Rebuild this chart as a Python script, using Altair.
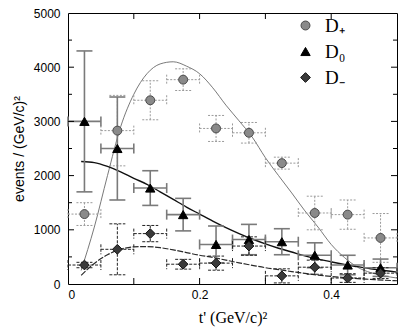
import altair as alt
import pandas as pd

# ---------------- data ----------------
SERIES = ["D₊", "D₀", "D₋"]

X_CENTERS = [0.025, 0.075, 0.125, 0.175, 0.225, 0.275, 0.325, 0.375, 0.425, 0.475]
X_HALF = [0.025, 0.025, 0.025, 0.025, 0.025, 0.025, 0.025, 0.025, 0.025, 0.025]

DPLUS_Y = [1290, 2830, 3390, 3770, 2870, 2790, 2230, 1310, 1280, 850]
DPLUS_ERR = [210, 650, 360, 200, 240, 190, 110, 310, 270, 450]
DZERO_Y = [3000, 2500, 1770, 1280, 730, 820, 780, 530, 350, 300]
DZERO_ERR = [1300, 950, 320, 300, 340, 280, 240, 230, 180, 160]
DMINUS_Y = [350, 640, 930, 365, 385, 700, 150, 310, 110, 200]
DMINUS_ERR = [50, 470, 150, 90, 130, 170, 130, 130, 80, 100]

CURVE_X = [0.02, 0.04, 0.06, 0.08, 0.10, 0.12, 0.14, 0.16, 0.18, 0.20, 0.22, 0.24,
           0.26, 0.28, 0.30, 0.32, 0.34, 0.36, 0.38, 0.40, 0.42, 0.44, 0.46, 0.48, 0.50]
DPLUS_CURVE = [250, 1050, 2000, 2900, 3500, 3880, 4060, 4100, 4020, 3880, 3620, 3300,
               3010, 2710, 2330, 2000, 1680, 1350, 1050, 730, 490, 310, 210, 150, 110]
DZERO_CURVE = [2260, 2240, 2170, 2070, 1950, 1840, 1700, 1560, 1420, 1290, 1160, 1040,
               930, 830, 740, 660, 590, 520, 460, 410, 360, 320, 280, 250, 220]
DMINUS_CURVE = [160, 380, 540, 640, 685, 690, 670, 630, 580, 530, 490, 440,
                390, 345, 300, 265, 230, 195, 165, 140, 120, 100, 85, 70, 60]

X_LABELS = [0, 0.2, 0.4]
X_TICKS = [0.1, 0.2, 0.3, 0.4]
Y_LABELS = [0, 1000, 2000, 3000, 4000, 5000]
Y_MAJOR = [1000, 2000, 3000, 4000]
Y_MINOR = [500, 1500, 2500, 3500, 4500]

# ---------------- tables ----------------
rows = []
for name, ys_, es_ in [(SERIES[0], DPLUS_Y, DPLUS_ERR),
                       (SERIES[1], DZERO_Y, DZERO_ERR),
                       (SERIES[2], DMINUS_Y, DMINUS_ERR)]:
    for x, hx, y, e in zip(X_CENTERS, X_HALF, ys_, es_):
        rows.append(dict(series=name, x=x, y=y, xlo=x - hx, xhi=x + hx,
                         ylo=max(y - e, 0), yhi=y + e))
pts = pd.DataFrame(rows)

curves = {
    SERIES[0]: pd.DataFrame({"x": CURVE_X, "y": DPLUS_CURVE}),
    SERIES[1]: pd.DataFrame({"x": CURVE_X, "y": DZERO_CURVE}),
    SERIES[2]: pd.DataFrame({"x": CURVE_X, "y": DMINUS_CURVE}),
}

W, H = 329, 271
xs = alt.Scale(domain=[0, 0.5], nice=False, zero=False)
ys = alt.Scale(domain=[0, 5000], nice=False)
SANS = "Liberation Sans"
SERIF = "Liberation Serif"

XAX = alt.Axis(values=X_LABELS,
               labelExpr="datum.value == 0 ? '0' : format(datum.value, '.1f')",
               ticks=False, domain=False, grid=False,
               labelFont=SANS, labelFontSize=12, labelColor="black",
               labelPadding=5,
               title="t' (GeV/c)²", titleFont=SERIF, titleFontSize=16,
               titleFontWeight="normal", titleColor="black", titlePadding=9)
YAX = alt.Axis(values=Y_LABELS, format="d",
               ticks=False, domain=False, grid=False,
               labelFont=SANS, labelFontSize=12, labelColor="black",
               labelPadding=8,
               title="events / (GeV/c)²", titleFont=SANS, titleFontSize=14,
               titleFontWeight="normal", titleColor="black", titlePadding=7)


def X(field):
    return alt.X(field, scale=xs, axis=XAX)


def Y(field):
    return alt.Y(field, scale=ys, axis=YAX)


def errbars(name, color, dash, width):
    d = pts[pts.series == name]
    base = alt.Chart(d)
    kw = dict(color=color, strokeWidth=width)
    if dash:
        kw["strokeDash"] = dash
    vert = base.mark_rule(**kw).encode(x=X("x:Q"), y=Y("ylo:Q"), y2="yhi:Q")
    horiz = base.mark_rule(**kw).encode(x=X("xlo:Q"), x2="xhi:Q", y=Y("y:Q"))
    cap_top = base.mark_rule(xOffset=-8, x2Offset=8, **kw).encode(
        x=X("x:Q"), x2="x:Q", y=Y("yhi:Q"))
    cap_bot = base.mark_rule(xOffset=-8, x2Offset=8, **kw).encode(
        x=X("x:Q"), x2="x:Q", y=Y("ylo:Q"))
    cap_l = base.mark_rule(yOffset=-5, y2Offset=5, **kw).encode(
        x=X("xlo:Q"), y=Y("y:Q"), y2="y:Q")
    cap_r = base.mark_rule(yOffset=-5, y2Offset=5, **kw).encode(
        x=X("xhi:Q"), y=Y("y:Q"), y2="y:Q")
    return [vert, horiz, cap_top, cap_bot, cap_l, cap_r]


eb = (errbars(SERIES[0], "#9a9a9a", [2, 1.5], 1)
      + errbars(SERIES[1], "#7a7a7a", None, 1.6)
      + errbars(SERIES[2], "#222222", [3, 1.5], 1))


def curve(name, color, width, dash=None):
    kw = dict(color=color, strokeWidth=width, interpolate="monotone")
    if dash:
        kw["strokeDash"] = dash
    return alt.Chart(curves[name]).mark_line(**kw).encode(x=X("x:Q"), y=Y("y:Q"))


lines = [curve(SERIES[0], "#6a6a6a", 0.9),
         curve(SERIES[1], "#111111", 1.4),
         curve(SERIES[2], "#2a2a2a", 1.2, dash=[6, 1.5])]

LEG = alt.Legend(title=None, orient="none", legendX=228, legendY=3,
                 labelFont=SERIF, labelFontSize=19, labelColor="black",
                 symbolSize=40, rowPadding=6, labelOffset=10, symbolStrokeWidth=1)

points = alt.Chart(pts).mark_point(filled=True, opacity=1, strokeWidth=1).encode(
    x=X("x:Q"),
    y=Y("y:Q"),
    shape=alt.Shape("series:N",
                    scale=alt.Scale(domain=SERIES, range=["circle", "triangle-up", "diamond"]),
                    legend=LEG),
    color=alt.Color("series:N",
                    scale=alt.Scale(domain=SERIES, range=["#8a8a8a", "#000000", "#3a3a3a"]),
                    legend=LEG),
    stroke=alt.Stroke("series:N",
                      scale=alt.Scale(domain=SERIES, range=["#4a4a4a", "#000000", "#111111"]),
                      legend=LEG),
    size=alt.Size("series:N", scale=alt.Scale(domain=SERIES, range=[80, 95, 55]),
                  legend=None),
)

# inward tick marks on all four sides
xt = pd.DataFrame({"v": X_TICKS})
ymaj = pd.DataFrame({"v": Y_MAJOR})
ymin = pd.DataFrame({"v": Y_MINOR})
tick_kw = dict(color="black", strokeWidth=1)
ticks = [
    alt.Chart(xt).mark_rule(**tick_kw).encode(
        x=X("v:Q"), y=alt.value(H), y2=alt.value(H - 6)),
    alt.Chart(xt).mark_rule(**tick_kw).encode(
        x=X("v:Q"), y=alt.value(0), y2=alt.value(6)),
    alt.Chart(ymaj).mark_rule(**tick_kw).encode(
        y=Y("v:Q"), x=alt.value(0), x2=alt.value(6)),
    alt.Chart(ymaj).mark_rule(**tick_kw).encode(
        y=Y("v:Q"), x=alt.value(W), x2=alt.value(W - 6)),
    alt.Chart(ymin).mark_rule(**tick_kw).encode(
        y=Y("v:Q"), x=alt.value(0), x2=alt.value(4)),
    alt.Chart(ymin).mark_rule(**tick_kw).encode(
        y=Y("v:Q"), x=alt.value(W), x2=alt.value(W - 4)),
]

chart = alt.layer(*lines, *eb, points, *ticks).properties(
    width=W, height=H,
    autosize=alt.AutoSizeParams(type="none"),
    padding={"left": 60, "top": 5, "right": 10, "bottom": 46},
    background="white",
).configure_view(stroke="black", strokeWidth=1)

chart.save("out.html", embed_options={"renderer": "svg", "actions": False})
